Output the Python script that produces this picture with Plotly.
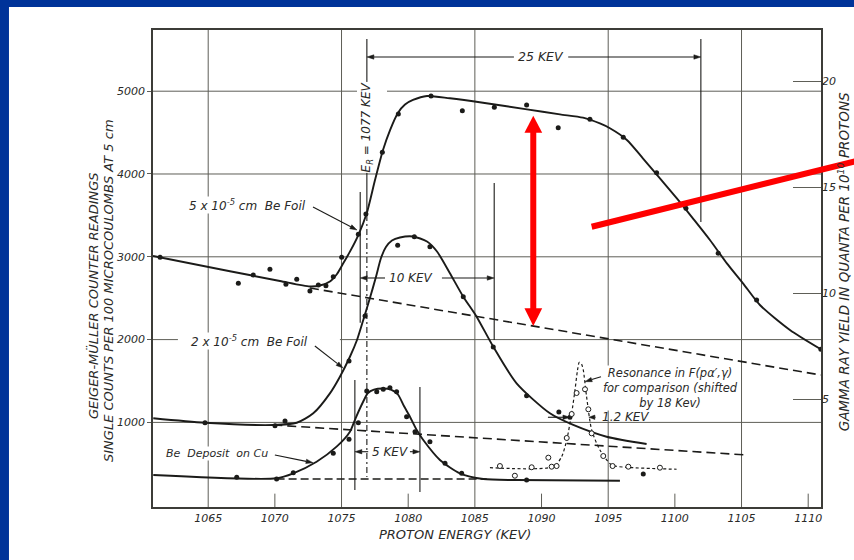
import math
import plotly.graph_objects as go

# ---------------- data (proton energy in keV, counts per 100 microcoulombs) -------------
# 5x10^-5 cm Be foil : smooth curve and measured points
foil5_curve_e = [1060.86, 1066.63, 1070.38, 1072.63, 1073.38, 1074.13, 1074.66, 1075.13, 1075.63,
                 1076.26, 1076.89, 1077.51, 1078.11, 1078.64, 1079.23, 1079.76, 1080.36, 1081.41,
                 1083.13, 1085.61, 1088.91, 1091.38, 1093.11, 1094.38, 1095.13, 1096.40, 1097.60,
                 1098.88, 1100.15, 1101.35, 1102.63, 1103.90, 1105.11, 1106.38, 1108.63, 1110.95]
foil5_curve_c = [3010, 2826, 2708, 2641, 2653, 2702, 2792, 2921, 3062,
                 3263, 3525, 3927, 4290, 4531, 4737, 4839, 4894, 4942,
                 4914, 4861, 4781, 4720, 4680, 4610, 4552, 4411, 4190,
                 3948, 3706, 3465, 3203, 2921, 2680, 2418, 2116, 1883]
foil5_pts_e = [1061.39, 1067.26, 1068.38, 1069.63, 1070.83, 1071.64, 1072.63, 1073.26, 1073.83,
               1074.38, 1075.01, 1076.26, 1076.83, 1078.06, 1079.26, 1081.71, 1084.06, 1086.46,
               1088.88, 1091.25, 1093.63, 1096.13, 1098.63, 1100.83, 1103.25, 1106.13, 1110.95]
foil5_pts_c = [2994, 2680, 2780, 2849, 2668, 2728, 2587, 2659, 2651,
               2760, 2994, 3272, 3517, 4262, 4724, 4942, 4764, 4805,
               4833, 4559, 4660, 4443, 4016, 3586, 3042, 2478, 1883]
foil5_base_e = [1072.63, 1110.95]
foil5_base_c = [2623, 1572]

# 2x10^-5 cm Be foil
foil2_curve_e = [1060.88, 1064.76, 1069.88, 1071.64, 1072.88, 1074.13, 1074.88, 1075.63, 1076.16,
                 1076.63, 1077.13, 1077.58, 1077.96, 1078.33, 1078.78, 1079.38, 1080.36, 1081.41,
                 1082.16, 1083.13, 1084.13, 1085.13, 1086.38, 1088.13, 1090.63, 1092.38, 1094.88,
                 1097.88]
foil2_curve_c = [1050, 996, 969, 996, 1110, 1351, 1552, 1793, 1995,
                 2237, 2502, 2756, 2985, 3118, 3197, 3233, 3245, 3185,
                 3064, 2801, 2518, 2277, 1914, 1472, 1110, 969, 827,
                 739]
foil2_pts_e = [1064.76, 1070.01, 1070.76, 1075.56, 1076.76, 1079.21, 1080.46, 1081.63, 1084.13,
               1086.38, 1088.88, 1091.30, 1092.13]
foil2_pts_c = [996, 960, 1017, 1741, 2285, 3139, 3243, 3122, 2518,
               1911, 1322, 1126, 1062]
foil2_base_e = [1069.88, 1105.46]
foil2_base_c = [969, 606]

# Be deposit on Cu
cu_curve_e = [1060.88, 1070.13, 1071.38, 1073.13, 1074.63, 1075.63, 1076.06, 1076.61, 1076.98,
              1077.43, 1078.11, 1078.71, 1079.23, 1079.68, 1080.13, 1080.64, 1081.13, 1082.38,
              1083.88, 1085.63, 1088.13, 1095.88]
cu_curve_c = [365, 325, 385, 525, 707, 888, 1053, 1246, 1355,
              1397, 1409, 1397, 1337, 1198, 1069, 908, 787, 546,
              385, 316, 304, 296]
cu_pts_e = [1067.14, 1070.13, 1071.38, 1074.38, 1075.56, 1076.26, 1076.89, 1077.64, 1078.13,
            1078.63, 1079.13, 1079.88, 1080.51, 1081.63, 1082.76, 1084.01, 1088.88, 1097.63]
cu_pts_c = [337, 316, 393, 627, 796, 996, 1379, 1371, 1400,
            1419, 1371, 1069, 888, 767, 506, 385, 304, 377]
cu_base_e = [1070.13, 1085.89]
cu_base_c = [316, 316]

# Resonance in F(p alpha', gamma) for comparison (shifted by 18 keV)
res_curve_e = [1086.13, 1090.88, 1091.51, 1091.89, 1092.26, 1092.51, 1092.70, 1092.83, 1093.00,
               1093.13, 1093.38, 1093.76, 1094.38, 1095.26, 1096.38, 1100.13]
res_curve_c = [453, 465, 586, 787, 1110, 1391, 1633, 1726, 1705,
               1633, 1310, 908, 667, 485, 458, 434]
res_pts_e = [1086.88, 1088.00, 1089.26, 1090.51, 1090.76, 1091.13, 1091.89, 1092.26, 1092.63,
             1093.26, 1093.51, 1093.76, 1094.63, 1095.33, 1096.51, 1098.88]
res_pts_c = [473, 356, 458, 574, 465, 473, 812, 1101, 1355,
             1400, 1158, 868, 594, 473, 465, 453]

x_tick_vals = [1065, 1070, 1075, 1080, 1085, 1090, 1095, 1100, 1105, 1110]
y_tick_vals = [1000, 2000, 3000, 4000, 5000]
y2_tick_vals = [5, 10, 15, 20]
major_grid_e = [1065, 1075, 1085, 1095, 1105]
minor_tick_e = [1070, 1080, 1090, 1100, 1110]

# ---------------- styling -------------
INK = '#1b1b19'
GRID = '#5e5e57'
TXT = '#2a2a28'
FONT = 'DejaVu Sans'
RED = '#ff0000'
BLUE = '#003399'

X_RANGE = [1060.86, 1110.96]
Y_RANGE = [-21.7, 5739]
Y2_RANGE = [-0.094, 22.41]
PLOT_W, PLOT_H = 668, 477
PX_PER_KEV = PLOT_W / (X_RANGE[1] - X_RANGE[0])
PX_PER_COUNT = PLOT_H / (Y_RANGE[1] - Y_RANGE[0])

fig = go.Figure()


def curve(e, c, dash='solid', width=1.9, shape='spline'):
    fig.add_trace(go.Scatter(x=e, y=c, mode='lines', showlegend=False, hoverinfo='skip',
                             line=dict(color=INK, width=width, dash=dash, shape=shape,
                                       smoothing=0.7)))


def dots(e, c, hollow=False):
    if hollow:
        m = dict(size=5, color='white', line=dict(color=INK, width=1), symbol='circle')
    else:
        m = dict(size=5, color=INK, symbol='circle')
    fig.add_trace(go.Scatter(x=e, y=c, mode='markers', marker=m, showlegend=False,
                             hoverinfo='skip'))


curve(foil5_curve_e, foil5_curve_c)
curve(foil5_base_e, foil5_base_c, dash='9px,5px', width=1.6, shape='linear')
curve(foil2_curve_e, foil2_curve_c)
curve(foil2_base_e, foil2_base_c, dash='9px,5px', width=1.6, shape='linear')
curve(cu_curve_e, cu_curve_c)
curve(cu_base_e, cu_base_c, dash='8px,4px', width=1.5, shape='linear')
curve(res_curve_e, res_curve_c, dash='3px,2.5px', width=1.2)
dots(foil5_pts_e, foil5_pts_c)
dots(foil2_pts_e, foil2_pts_c)
dots(cu_pts_e, cu_pts_c)
dots(res_pts_e, res_pts_c, hollow=True)
# right axis carrier (gamma-ray yield scale)
fig.add_trace(go.Scatter(x=[None], y=[None], yaxis='y2', showlegend=False, hoverinfo='skip'))

shapes = []


def seg(x0, y0, x1, y1, xref='x', yref='y', color=GRID, width=1, dash='solid', layer='below'):
    shapes.append(dict(type='line', x0=x0, y0=y0, x1=x1, y1=y1, xref=xref, yref=yref,
                       line=dict(color=color, width=width, dash=dash), layer=layer))


def arrow(hx, hy, tx, ty, head_len=7.0, half_w=2.2):
    """Drafting arrow: shaft from tail to head, with a slim filled head (drawn in data units)."""
    dxp = (hx - tx) * PX_PER_KEV
    dyp = (hy - ty) * PX_PER_COUNT
    L = math.hypot(dxp, dyp)
    ux, uy = dxp / L, dyp / L
    bx = hx - head_len * ux / PX_PER_KEV
    by = hy - head_len * uy / PX_PER_COUNT
    px_, py_ = -uy, ux
    c1x = bx + half_w * px_ / PX_PER_KEV
    c1y = by + half_w * py_ / PX_PER_COUNT
    c2x = bx - half_w * px_ / PX_PER_KEV
    c2y = by - half_w * py_ / PX_PER_COUNT
    seg(tx, ty, bx, by, color=INK, width=1.1, layer='above')
    shapes.append(dict(type='path', xref='x', yref='y', layer='above', fillcolor=INK,
                       line=dict(color=INK, width=0.5),
                       path=f'M {c1x:.4f} {c1y:.3f} L {hx:.4f} {hy:.3f} L {c2x:.4f} {c2y:.3f} Z'))


for e in major_grid_e:
    seg(e, 0, e, 1, yref='paper')
for e in minor_tick_e:
    seg(e, 0, e, 0.028, yref='paper')
for c in [1000, 3000, 4000]:
    seg(0, c, 1, c, xref='paper')
# 2000 and 5000 grid lines are interrupted by lettering
seg(X_RANGE[0], 2000, 1062.73, 2000)
seg(1074.88, 2000, X_RANGE[1], 2000)
seg(X_RANGE[0], 5000, 1076.16, 5000)
seg(1078.41, 5000, X_RANGE[1], 5000)

# E_R = 1077 keV marker and 25 keV span
seg(1076.9, 5630, 1076.9, 3504, color=INK, width=1.1)
seg(1076.9, 3504, 1076.9, 341, color=INK, width=1.1, dash='6px,3px,2px,3px')
seg(1101.95, 5630, 1101.95, 3420, color=INK, width=1.1)
# 10 keV width
seg(1076.4, 3782, 1076.4, 2202, color=INK, width=1.1)
seg(1086.45, 3891, 1086.45, 1995, color=INK, width=1.1)
# 5 keV width
seg(1076.0, 1512, 1076.0, 184, color=INK, width=1.1)
seg(1080.88, 1428, 1080.88, 160, color=INK, width=1.1)

arrow(1076.9, 5413, 1087.93, 5413)
arrow(1101.95, 5413, 1092.0, 5413)
arrow(1076.4, 2744, 1078.26, 2744)
arrow(1086.45, 2744, 1082.53, 2744)
arrow(1076.0, 646, 1077.0, 646)
arrow(1080.88, 646, 1080.13, 646)
arrow(1092.13, 1062, 1090.48, 1062)
arrow(1093.55, 1062, 1094.05, 1062, head_len=6.0)
arrow(1076.16, 3324, 1072.86, 3600)
arrow(1075.11, 1657, 1073.0, 1923)
arrow(1072.86, 513, 1070.0, 606)
arrow(1093.26, 1492, 1094.46, 1552)

# red overlay: double arrow and pointer line
seg(1089.38, 4510, 1089.38, 2366, color=RED, width=6, layer='above')
shapes.append(dict(type='path', xref='x', yref='y', layer='above', fillcolor=RED,
                   line=dict(color=RED, width=0),
                   path='M 1088.72 4499 L 1089.38 4704 L 1090.05 4499 Z'))
shapes.append(dict(type='path', xref='x', yref='y', layer='above', fillcolor=RED,
                   line=dict(color=RED, width=0),
                   path='M 1088.72 2378 L 1089.38 2164 L 1090.05 2378 Z'))
seg(0.6567, 0.5876, 1.07, 0.7314, xref='paper', yref='paper', color=RED, width=6, layer='above')

# blue slide frame
shapes.append(dict(type='rect', xref='paper', yref='paper', x0=-0.25, x1=-0.2156, y0=-0.2, y1=1.2,
                   fillcolor=BLUE, line=dict(width=0), layer='above'))
shapes.append(dict(type='rect', xref='paper', yref='paper', x0=-0.25, x1=1.1, y0=1.0482, y1=1.2,
                   fillcolor=BLUE, line=dict(width=0), layer='above'))

annotations = []


def txt(x, y, s, size=11, xref='x', yref='y', angle=0, xanchor='center', bg=None, align='center'):
    a = dict(x=x, y=y, xref=xref, yref=yref, text=s, showarrow=False, textangle=angle,
             xanchor=xanchor, yanchor='middle', align=align,
             font=dict(family=FONT, size=size, color=TXT, style='italic'))
    if bg:
        a['bgcolor'] = bg
        a['borderpad'] = 0
    annotations.append(a)


# axis titles
txt(0.4521, -0.0587, 'PROTON ENERGY (KEV)', size=13, xref='paper', yref='paper')
txt(-0.0898, 0.4423, 'GEIGER-MÜLLER COUNTER READINGS', size=13, xref='paper', yref='paper', angle=-90)
txt(-0.0674, 0.4549, 'SINGLE COUNTS PER 100 MICROCOULOMBS AT 5 cm', size=13, xref='paper',
    yref='paper', angle=-90)
txt(1.0344, 0.515, 'GAMMA RAY YIELD IN QUANTA PER 10<sup>10</sup> PROTONS', size=13.5,
    xref='paper', yref='paper', angle=-90)

# width / resonance markers
txt(1089.96, 5413, '25 KEV', size=12.5)
txt(1076.9, 4561, 'E<sub>R</sub> = 1077 KEV', size=12, angle=-90, bg='white')
txt(1080.21, 2744, '10 KEV', size=12)
txt(1078.63, 646, '5 KEV', size=12)
txt(1094.4, 1062, '1.2 KEV', size=12, xanchor='left')

# curve labels
txt(1067.98, 3626, '5 x 10<sup>-5</sup> cm  Be Foil', size=12, bg='white')
txt(1068.13, 1983, '2 x 10<sup>-5</sup> cm  Be Foil', size=12, bg='white')
txt(1065.66, 630, 'Be  Deposit  on Cu', size=11, bg='white')
txt(1099.7, 1410, 'Resonance in F(pα′,γ)<br>for comparison (shifted<br>by 18 Kev)', size=11.5,
    bg='white')

fig.update_layout(
    width=854, height=560, autosize=False,
    margin=dict(l=153, r=33, t=30, b=53, pad=0),
    paper_bgcolor='white', plot_bgcolor='white',
    font=dict(family=FONT, color=TXT),
    shapes=shapes, annotations=annotations,
    xaxis=dict(range=X_RANGE, showgrid=False, zeroline=False, showline=True, mirror=True,
               linecolor='#3c3c38', linewidth=1.5, ticks='', tickvals=x_tick_vals,
               ticktext=[str(v) for v in x_tick_vals],
               tickfont=dict(family=FONT, size=11, color=TXT, style='italic')),
    yaxis=dict(range=Y_RANGE, showgrid=False, zeroline=False, showline=True, mirror=True,
               linecolor='#3c3c38', linewidth=1.5, ticks='outside', ticklen=4, tickcolor=GRID,
               tickvals=y_tick_vals, ticktext=[str(v) for v in y_tick_vals],
               tickfont=dict(family=FONT, size=11, color=TXT, style='italic')),
    yaxis2=dict(range=Y2_RANGE, overlaying='y', side='right', showgrid=False, zeroline=False,
                showline=False, ticks='inside', ticklen=28, tickcolor=GRID, tickwidth=1,
                tickvals=y2_tick_vals, ticktext=[str(v) for v in y2_tick_vals],
                tickfont=dict(family=FONT, size=11, color=TXT, style='italic')),
)

fig.write_html('out.html')
